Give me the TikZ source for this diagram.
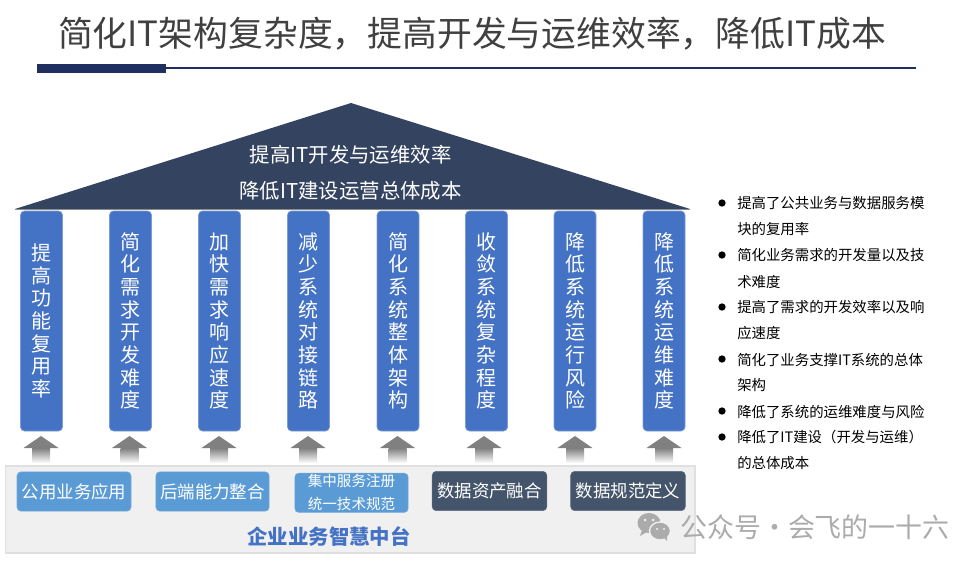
\documentclass[tikz,border=0pt]{standalone}
\usepackage{fontspec}
\setmainfont{Noto Sans CJK SC}
\usetikzlibrary{shadings}
\definecolor{roofc}{HTML}{334360}
\definecolor{pillarc}{HTML}{4472C4}
\definecolor{lightb}{HTML}{5B9BD5}
\definecolor{darkb}{HTML}{44546A}
\definecolor{bandc}{HTML}{F0F0F0}
\definecolor{bandl}{HTML}{E0E0E0}
\definecolor{navy}{HTML}{1F3060}
\definecolor{titlec}{HTML}{404040}
\definecolor{wmc}{HTML}{ABABAB}
\newcommand{\myfs}[2]{\fontsize{#1pt}{#2pt}\selectfont}
\newcommand{\lowr}[1]{\raisebox{-2.4pt}{#1}}
\tikzset{
  x=0.75pt,y=-0.75pt,
  pillar/.style={draw=pillarc!70!white,line width=0.5pt,fill=pillarc,rounded corners=3pt,minimum width=31.5pt,minimum height=165pt,inner sep=0pt,text=white,align=center,font=\myfs{15}{17}},
  svc/.style={rounded corners=3pt,minimum height=29.5pt,inner sep=0pt,text=white,font=\myfs{13.1}{15}},
  lightbox/.style={svc,fill=lightb,draw=lightb!85!white,line width=0.4pt},
  darkbox/.style={svc,fill=darkb,draw=darkb!85!white,line width=0.4pt},
  note/.style={anchor=west,inner sep=0pt,font=\myfs{10.8}{12},text=black},
  dot/.style={circle,fill=black,minimum size=5.5pt,inner sep=0pt},
  upshaft/.style={top color=black!50,bottom color=white,draw=none},
  uphead/.style={fill=black!50,draw=none}
}
\newcommand{\uparrowat}[1]{%
  \fill[uphead] (#1-17.5,448) -- (#1,436) -- (#1+17.5,448) -- cycle;
  \shade[upshaft] (#1-9,448) rectangle (#1+9,463);
}
\begin{document}
\begin{tikzpicture}
\useasboundingbox (0,0) rectangle (977,564);
\fill[white] (0,0) rectangle (977,564);
% title
\node[inner sep=0pt,text=titlec,font=\myfs{26.1}{30}] (title) at (472,33.7) {简化IT架构复杂度，提高开发与运维效率，降低IT成本};
\fill[navy] (37,64) rectangle (166,73);
\draw[navy,line width=0.8pt] (166,68) -- (916,68);
% roof
\fill[roofc] (15,209) -- (351,103) -- (690,209) -- cycle;
\draw[black!45,line width=0.5pt] (15,209) -- (690,209);
\node[text=white,inner sep=0pt,font=\myfs{15.3}{17}] (roof1) at (350.5,155) {提高IT开发与运维效率};
\node[text=white,inner sep=0pt,font=\myfs{15.3}{17}] (roof2) at (350.5,191) {降低IT建设运营总体成本};
% pillars
\node[pillar] (p1) at (41.5,321) {提\\高\\功\\能\\复\\用\\率};
\node[pillar] (p2) at (130.5,321) {简\\化\\需\\求\\开\\发\\难\\度};
\node[pillar] (p3) at (219.5,321) {加\\快\\需\\求\\响\\应\\速\\度};
\node[pillar] (p4) at (308.5,321) {减\\少\\系\\统\\对\\接\\链\\路};
\node[pillar] (p5) at (398,321) {简\\化\\系\\统\\整\\体\\架\\构};
\node[pillar] (p6) at (486.5,321) {收\\敛\\系\\统\\复\\杂\\程\\度};
\node[pillar] (p7) at (575,321) {降\\低\\系\\统\\运\\行\\风\\险};
\node[pillar] (p8) at (664,321) {降\\低\\系\\统\\运\\维\\难\\度};
% band
\draw[bandl,fill=bandc,line width=0.8pt] (5.5,466) rectangle (695,553);
% arrows
\uparrowat{41}
\uparrowat{129.5}
\uparrowat{219}
\uparrowat{308}
\uparrowat{397.5}
\uparrowat{484}
\uparrowat{575}
\uparrowat{664}
% service boxes
\node[lightbox,minimum width=85.5pt] (s1) at (74,491.5) {\lowr{公用业务应用}};
\node[lightbox,minimum width=85pt] (s2) at (212.5,491.5) {\lowr{后端能力整合}};
\node[lightbox,minimum width=85pt,align=center,font=\myfs{10.9}{17.25}] (s3) at (351.5,492.8) {集中服务注册\\统一技术规范};
\node[darkbox,minimum width=86pt] (s4) at (489.5,491) {\lowr{数据资产融合}};
\node[darkbox,minimum width=86pt] (s5) at (628,491) {\lowr{数据规范定义}};
\node[inner sep=0pt,text=pillarc,font=\myfs{15.3}{18}\bfseries] (band) at (329,536) {企业业务智慧中台};
% notes
\node[dot] (d1) at (722,203) {};
\node[note] (n1) at (737,203.5) {提高了公共业务与数据服务模};
\node[note] (n1b) at (737,229.5) {块的复用率};
\node[dot] (d2) at (722,255) {};
\node[note] (n2) at (737,255.5) {简化业务需求的开发量以及技};
\node[note] (n2b) at (737,281.5) {术难度};
\node[dot] (d3) at (722,307) {};
\node[note] (n3) at (737,307.5) {提高了需求的开发效率以及响};
\node[note] (n3b) at (737,333.5) {应速度};
\node[dot] (d4) at (722,359) {};
\node[note] (n4) at (737,359.5) {简化了业务支撑IT系统的总体};
\node[note] (n4b) at (737,385.5) {架构};
\node[dot] (d5) at (722,411) {};
\node[note] (n5) at (737,411.5) {降低了系统的运维难度与风险};
\node[dot] (d6) at (722,437) {};
\node[note] (n6) at (737,437.5) {降低了IT建设（开发与运维）};
\node[note] (n6b) at (737,463.5) {的总体成本};
% watermark
\fill[wmc] (649,523) ellipse (11.5 and 10);
\fill[wmc] (642,530) -- (640,536) -- (647,532) -- cycle;
\draw[bandc,fill=wmc,line width=1pt] (660,531) ellipse (10.5 and 9);
\fill[wmc] (664,538) -- (667,541) -- (667,536) -- cycle;
\fill[bandc] (645,520) circle (1.5) (653,520) circle (1.5) (657,529) circle (1.2) (664,529) circle (1.2);
\node[inner sep=0pt,anchor=west,text=wmc,font=\myfs{20.2}{22}] (wm) at (680,527) {公众号 \hspace{-4.5pt}·\hspace{-4.5pt} 会飞的一十六};
\end{tikzpicture}
\end{document}
